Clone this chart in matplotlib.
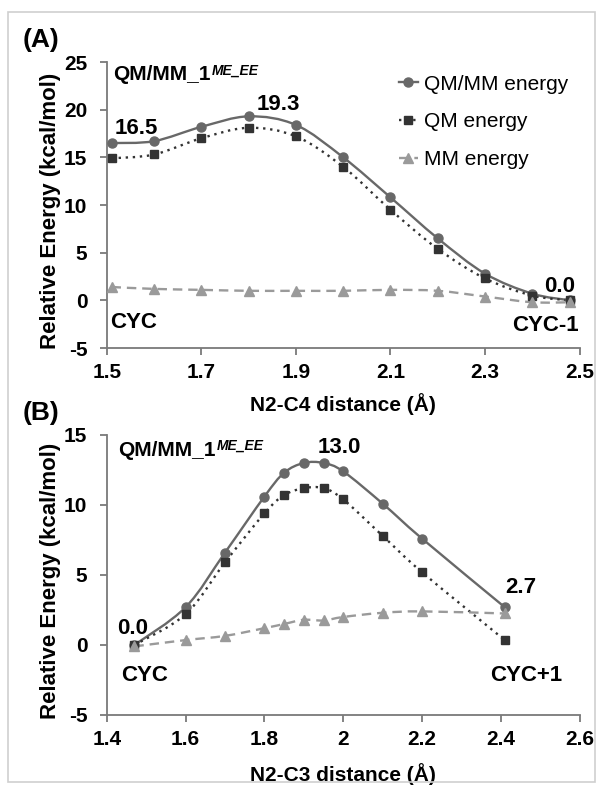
import numpy as np
import matplotlib
matplotlib.use("Agg")
import matplotlib.pyplot as plt
from matplotlib.path import Path
from matplotlib.patches import PathPatch, Rectangle
from matplotlib.lines import Line2D

plt.rcParams["font.family"] = ["Liberation Sans", "DejaVu Sans"]
plt.rcParams["axes.unicode_minus"] = False

# Panel A: N2-C4 scan
dist_a = [1.51, 1.6, 1.7, 1.8, 1.9, 2.0, 2.1, 2.2, 2.3, 2.4, 2.48]
qmmm_a = [16.5, 16.7, 18.2, 19.3, 18.4, 15.0, 10.8, 6.5, 2.8, 0.7, 0.0]
qm_a = [14.9, 15.3, 17.0, 18.1, 17.2, 14.0, 9.5, 5.4, 2.3, 0.5, 0.0]
mm_a = [1.4, 1.2, 1.1, 1.0, 1.0, 1.0, 1.1, 1.0, 0.4, -0.2, -0.2]

# Panel B: N2-C3 scan
dist_b = [1.47, 1.6, 1.7, 1.8, 1.85, 1.9, 1.95, 2.0, 2.1, 2.2, 2.41]
qmmm_b = [0.0, 2.7, 6.6, 10.6, 12.3, 13.0, 13.0, 12.4, 10.1, 7.6, 2.7]
qm_b = [0.0, 2.2, 5.9, 9.4, 10.7, 11.2, 11.2, 10.4, 7.8, 5.2, 0.35]
mm_b = [-0.1, 0.35, 0.65, 1.2, 1.5, 1.8, 1.75, 2.0, 2.3, 2.4, 2.25]

series_labels = ["QM/MM energy", "QM energy", "MM energy"]
xticks_a = [1.5, 1.7, 1.9, 2.1, 2.3, 2.5]
xticks_b = [1.4, 1.6, 1.8, 2.0, 2.2, 2.4, 2.6]
xticklabels_b = ["1.4", "1.6", "1.8", "2", "2.2", "2.4", "2.6"]
yticks = [-5, 0, 5, 10, 15, 20, 25]

QMMM_COLOR = "#686868"
QM_COLOR = "#333333"
MM_COLOR = "#9a9a9a"
AXIS_COLOR = "#7a7a7a"


def smooth_path(x, y):
    # Excel-style smoothed line: cubic Bezier through every point
    pts = np.column_stack([x, y]).astype(float)
    n = len(pts)
    verts = [pts[0]]
    codes = [Path.MOVETO]
    for i in range(n - 1):
        p0 = pts[max(i - 1, 0)]
        p1, p2 = pts[i], pts[i + 1]
        p3 = pts[min(i + 2, n - 1)]
        verts += [p1 + (p2 - p0) / 6, p2 - (p3 - p1) / 6, p2]
        codes += [Path.CURVE4] * 3
    return Path(verts, codes)


styles = [
    dict(color=QMMM_COLOR, ls="-", marker="o", ms=6.5),
    dict(color=QM_COLOR, ls=(0, (1, 2)), marker="s", ms=6),
    dict(color=MM_COLOR, ls=(0, (4, 2.5)), marker="^", ms=7),
]


def draw_panel(ax, x, ys, xlim, ymax, xticks, xlabel):
    for y, st in zip(ys, styles):
        ax.add_patch(PathPatch(smooth_path(x, y), facecolor="none",
                               edgecolor=st["color"], linestyle=st["ls"],
                               linewidth=1.7, zorder=2))
    for y, st in zip(ys, styles):
        ax.plot(x, y, linestyle="none", marker=st["marker"], ms=st["ms"],
                color=st["color"], zorder=3)
    ax.set_xlim(*xlim)
    ax.set_ylim(-5, ymax)
    ax.set_xticks(xticks)
    ax.set_yticks([t for t in yticks if t <= ymax])
    ax.spines[["top", "right"]].set_visible(False)
    for s in ("left", "bottom"):
        ax.spines[s].set_color(AXIS_COLOR)
        ax.spines[s].set_linewidth(1.3)
    ax.tick_params(direction="out", length=5, width=1.3, color=AXIS_COLOR,
                   labelsize=15, pad=6)
    ax.tick_params(axis="y", pad=9)
    for lab in ax.get_xticklabels() + ax.get_yticklabels():
        lab.set_fontweight("bold")
    ax.set_ylabel("Relative Energy (kcal/mol)", fontsize=16, fontweight="bold")
    ax.set_xlabel(xlabel, fontsize=15, fontweight="bold")
    ax.yaxis.set_label_coords(-0.097, 0.48)


fig = plt.figure(figsize=(6, 7.87), dpi=100)
fig.patches.append(Rectangle((0.0133, 0.0064), 0.978, 0.978, transform=fig.transFigure,
                             facecolor="none", edgecolor="#cfcfcf", linewidth=1.2))

ax_a = fig.add_axes([0.178, 0.5578, 0.788, 0.3634])
ax_b = fig.add_axes([0.178, 0.0915, 0.788, 0.3558])

draw_panel(ax_a, dist_a, [qmmm_a, qm_a, mm_a], (1.5, 2.5), 25, xticks_a, "N2-C4 distance (Å)")
draw_panel(ax_b, dist_b, [qmmm_b, qm_b, mm_b], (1.4, 2.6), 15, xticks_b, "N2-C3 distance (Å)")
ax_b.set_xticklabels(xticklabels_b, fontweight="bold")
ax_a.xaxis.set_label_coords(0.5, -0.157)
ax_b.xaxis.set_label_coords(0.5, -0.171)

# legend (panel A only)
handles = [Line2D([], [], color=st["color"], linestyle=st["ls"], marker=st["marker"],
                  ms=st["ms"], linewidth=1.7) for st in styles]
ax_a.legend(handles, series_labels, loc="upper left", bbox_to_anchor=(0.6, 0.985),
            frameon=False, fontsize=15, handlelength=0.9, handletextpad=0.3,
            labelspacing=0.9, borderaxespad=0)

# annotations
ann = dict(fontsize=16, fontweight="bold", ha="center", va="center")
for ax, xy in ((ax_a, (0.013, 0.955)), (ax_b, (0.023, 0.946))):
    t = ax.text(*xy, "QM/MM_1", transform=ax.transAxes, fontsize=15,
                fontweight="bold", ha="left", va="center")
    ax.annotate("ME_EE", xy=(1, 1), xycoords=t, xytext=(1, 1), textcoords="offset points",
                fontsize=10, fontweight="bold", style="italic", ha="left", va="top")

ax_a.text(1.563, 18.0, "16.5", **ann)
ax_a.text(1.862, 20.5, "19.3", **ann)
ax_a.text(2.458, 1.4, "0.0", **ann)
ax_a.text(1.508, -2.3, "CYC", fontsize=16, fontweight="bold", ha="left", va="center")
ax_a.text(2.498, -2.6, "CYC-1", fontsize=16, fontweight="bold", ha="right", va="center")

ax_b.text(1.99, 14.1, "13.0", **ann)
ax_b.text(2.45, 4.1, "2.7", **ann)
ax_b.text(1.466, 1.2, "0.0", **ann)
ax_b.text(1.436, -2.2, "CYC", fontsize=16, fontweight="bold", ha="left", va="center")
ax_b.text(2.557, -2.2, "CYC+1", fontsize=16, fontweight="bold", ha="right", va="center")

fig.text(0.038, 0.949, "(A)", fontsize=19, fontweight="bold", ha="left", va="center")
fig.text(0.038, 0.475, "(B)", fontsize=19, fontweight="bold", ha="left", va="center")

fig.savefig("out.png", dpi=100)
